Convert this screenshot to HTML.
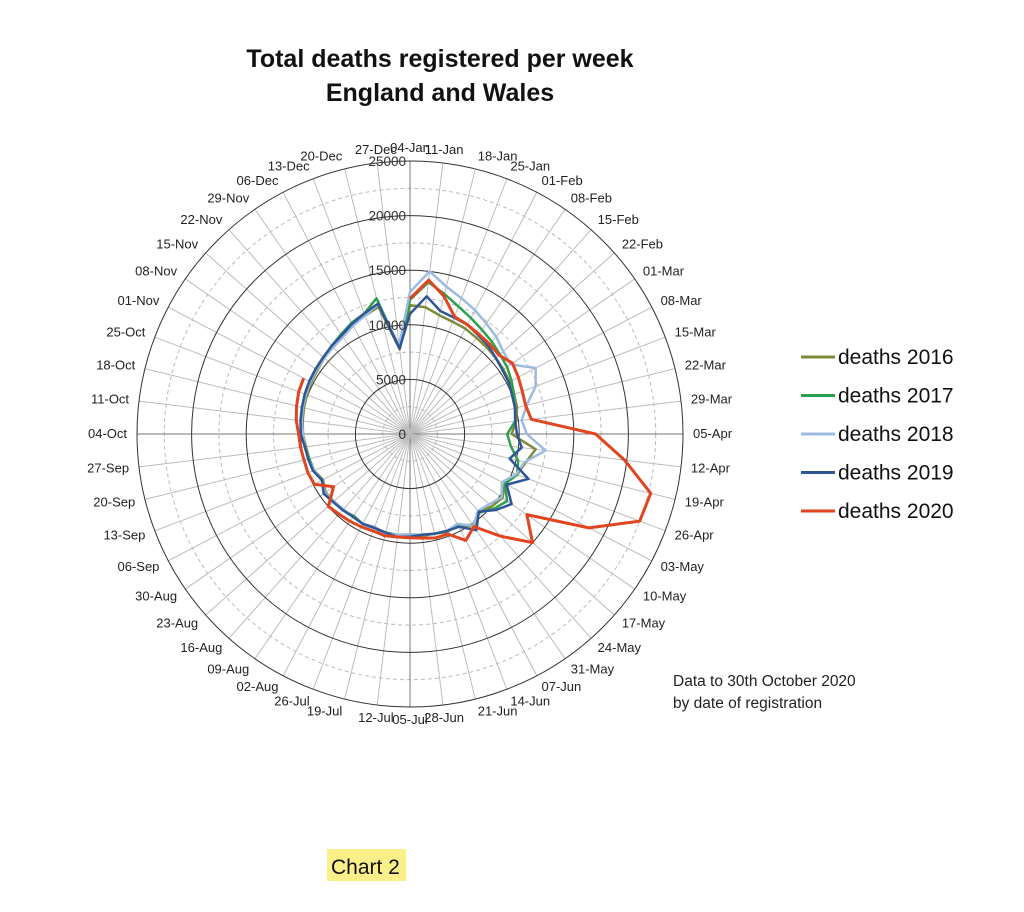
<!DOCTYPE html>
<html><head><meta charset="utf-8"><style>
body{margin:0;background:#fff;width:1024px;height:912px;overflow:hidden;font-family:"Liberation Sans",sans-serif}
svg{position:absolute;left:0;top:0}
</style></head><body>
<svg id="chart" width="1024" height="912">
<text x="440" y="67" text-anchor="middle" font-size="25" font-weight="bold" fill="#111">Total deaths registered per week</text>
<text x="440" y="101" text-anchor="middle" font-size="25" font-weight="bold" fill="#111">England and Wales</text>
<g id="grid"></g><g id="series"></g><g id="labels"></g>
<g id="legend"></g>
<text x="673" y="686" font-size="15.5" fill="#222">Data to 30th October 2020</text>
<text x="673" y="708" font-size="15.5" fill="#222">by date of registration</text>
<rect x="327" y="849" width="79" height="32" fill="#fbef8a"/>
<text x="331" y="874" font-size="21" fill="#111">Chart 2</text>
</svg>
<script>
const categories=["04-Jan","11-Jan","18-Jan","25-Jan","01-Feb","08-Feb","15-Feb","22-Feb","01-Mar","08-Mar","15-Mar","22-Mar","29-Mar","05-Apr","12-Apr","19-Apr","26-Apr","03-May","10-May","17-May","24-May","31-May","07-Jun","14-Jun","21-Jun","28-Jun","05-Jul","12-Jul","19-Jul","26-Jul","02-Aug","09-Aug","16-Aug","23-Aug","30-Aug","06-Sep","13-Sep","20-Sep","27-Sep","04-Oct","11-Oct","18-Oct","25-Oct","01-Nov","08-Nov","15-Nov","22-Nov","29-Nov","06-Dec","13-Dec","20-Dec","27-Dec"];
const tickValues=[0,5000,10000,15000,20000,25000];
const seriesNames=["deaths 2016","deaths 2017","deaths 2018","deaths 2019","deaths 2020"];
const seriesColors=["#7d8b3a","#2e9e4f","#9dbbe0","#2f5597","#e0451f"];
const d2016=[11800,11700,11200,11000,10900,10700,10600,10500,10400,10300,10200,10100,9800,9300,11600,10900,10500,9800,10300,10000,9500,10300,9400,9600,9400,9400,9300,9300,9400,9200,9300,9200,9300,9300,9400,9000,9400,9500,9600,9800,9900,10000,10100,10200,10300,10500,10700,10900,11300,11600,12000,7800];
const d2017=[12300,14000,13200,12500,12000,11600,11300,11000,10800,10500,10200,9900,9700,8900,9300,10200,10500,9800,10800,10300,9600,10100,9500,9500,9400,9300,9200,9300,9300,9200,9300,9100,9300,9300,9500,9100,9400,9500,9700,9900,10000,10100,10300,10400,10500,10600,10800,11100,11500,11800,12800,7900];
const d2018=[13000,15000,13900,13300,12800,12300,11900,11400,11200,13000,12300,11000,10300,10700,12500,10800,10400,9500,10200,9700,9400,10200,9300,9500,9400,9300,9200,9300,9400,9100,9300,9200,9200,9300,9500,9100,9400,9600,9700,9800,10000,10100,10200,10300,10400,10500,10600,10800,11200,11600,12200,8200];
const d2019=[11000,12700,11600,11400,11300,11000,10800,10500,10300,10200,10000,9900,9700,9800,10300,9400,11600,10000,11300,10500,9500,10700,9600,9500,9400,9300,9400,9500,9300,9200,9300,9200,9300,9400,9600,9100,9500,9600,9700,10000,10100,10200,10300,10400,10500,10600,10800,11000,11400,11800,12300,7900];
const d2020=[12400,14200,13000,11500,11300,11100,11000,10900,11400,11200,11000,10900,11200,17000,19800,22700,22500,18500,13000,15000,12500,10300,11000,9800,9800,9600,9500,9500,9600,9500,9600,9700,9800,10000,8500,9900,10000,10000,10100,10200,10500,10700,10900,11000];
const allSeries=[d2016,d2017,d2018,d2019,d2020];

const NS="http://www.w3.org/2000/svg";
const cx=410,cy=434,R=273,maxV=25000;
function ang(i){return i*2*Math.PI/categories.length;}
function px(i,v){return cx+Math.sin(ang(i))*v/maxV*R;}
function py(i,v){return cy-Math.cos(ang(i))*v/maxV*R;}
function mk(tag,attrs,parent){const e=document.createElementNS(NS,tag);for(const k in attrs)e.setAttribute(k,attrs[k]);parent.appendChild(e);return e;}
const grid=document.getElementById('grid'),labels=document.getElementById('labels'),ser=document.getElementById('series'),leg=document.getElementById('legend');
for(let t=0;t<tickValues.length-1;t++){
  const v=(tickValues[t]+tickValues[t+1])/2;
  const c=mk('circle',{cx:cx,cy:cy,r:v/maxV*R,fill:'none',stroke:'#bbb','stroke-dasharray':'4 3','stroke-width':1},grid);
  
  
}
categories.forEach((c,i)=>{
  const l=mk('line',{x1:cx,y1:cy,x2:px(i,maxV),y2:py(i,maxV),stroke:i%13===0?'#777':'#bcbcbc','stroke-width':1},grid);
  
  
  const a=ang(i),s=Math.sin(a),co=Math.cos(a);
  const lx=cx+s*(R+10),ly=cy-co*(R+10)+4-co*3;
  let anchor=Math.abs(s)<0.15?'middle':(s>0?'start':'end');
  const t=mk('text',{x:lx,y:ly,'text-anchor':anchor,'font-size':13,fill:'#222'},labels);
  t.textContent=c;
  
  
});
tickValues.forEach(v=>{
  if(v>0){
    const c=mk('circle',{cx:cx,cy:cy,r:v/maxV*R,fill:'none',stroke:'#333','stroke-width':1},grid);
    
    
  }
  const t=mk('text',{x:cx-4,y:cy-v/maxV*R+5,'text-anchor':'end','font-size':13.5,fill:'#333'},labels);
  t.textContent=String(v);
  
  
});
allSeries.forEach((d,s)=>{
  let pts=d.map((v,i)=>px(i,v).toFixed(1)+','+py(i,v).toFixed(1));
  const tag=d.length===categories.length?'polygon':'polyline';
  const p=mk(tag,{points:pts.join(' '),fill:'none',stroke:seriesColors[s],'stroke-width':s===4?3:2.5,'stroke-linejoin':'round'},ser);
  
  
  const y=357+s*38.5;
  const ln=mk('line',{x1:801,y1:y,x2:835,y2:y,stroke:seriesColors[s],'stroke-width':3},leg);
  
  
  const t=mk('text',{x:838,y:y+7,'font-size':21,fill:'#111'},leg);
  t.textContent=seriesNames[s];
  
  
});
</script>
</body></html>
